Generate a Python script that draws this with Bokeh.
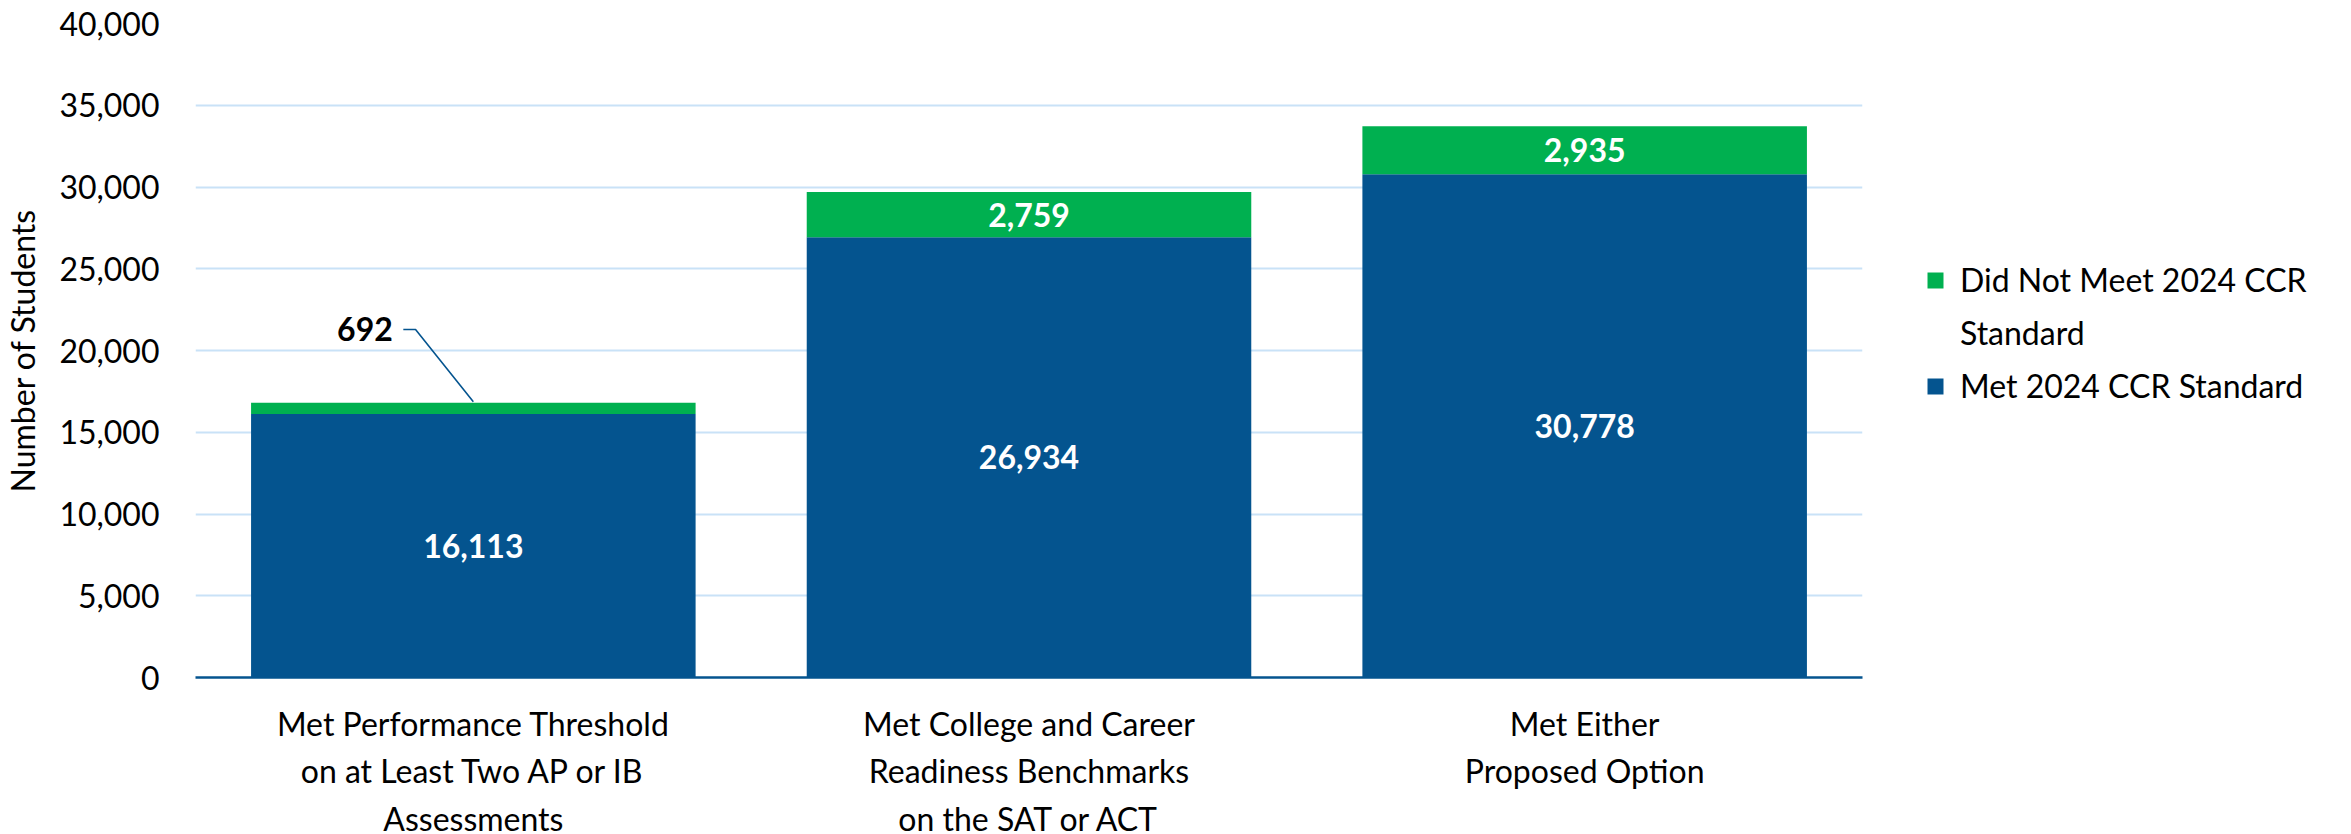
from bokeh.plotting import figure
from bokeh.models import (ColumnDataSource, Range1d, FixedTicker, NumeralTickFormatter,
                          Legend, LegendItem)
from bokeh.core.properties import value
from bokeh.embed import file_html
from bokeh.resources import INLINE

categories = ["Met Performance Threshold\non at Least Two AP or IB\nAssessments",
              "Met College and Career\nReadiness Benchmarks\non the SAT or ACT",
              "Met Either\nProposed Option"]
met = [16113, 26934, 30778]
not_met = [692, 2759, 2935]
legend_lines = ["Did Not Meet 2024 CCR", "Standard", "Met 2024 CCR Standard"]

BLUE = "#04548F"
GREEN = "#00B050"
FONT = "Lato"

xs = [i + 0.5 for i in range(len(categories))]
totals = [m + n for m, n in zip(met, not_met)]
src = ColumnDataSource(dict(
    x=xs, met=met, not_met=not_met,
    met_mid=[m / 2 for m in met],
    nm_mid=[m + n / 2 for m, n in zip(met, not_met)],
    met_lbl=[f"{m:,}" for m in met],
    nm_lbl=[f"{n:,}" for n in not_met],
))

p = figure(frame_width=1667, frame_height=654, x_range=Range1d(0, len(categories)),
           y_range=Range1d(0, 40000), output_backend="svg", toolbar_location=None,
           min_border_left=187, min_border_right=440, min_border_top=23, min_border_bottom=130)
p.outline_line_color = None
p.background_fill_color = "white"

r = p.vbar_stack(["met", "not_met"], x="x", width=0.8, source=src,
                 color=[BLUE, GREEN], line_color=None)
dummy = p.vbar(x=[], top=[], width=0.1, fill_alpha=0, line_alpha=0)

# labels inside segments (both large ones); the small 692 is a callout
big = ColumnDataSource(dict(
    x=xs + xs[1:],
    y=src.data["met_mid"] + src.data["nm_mid"][1:],
    t=src.data["met_lbl"] + src.data["nm_lbl"][1:],
))
p.text(x="x", y="y", text="t", source=big, text_align="center", text_baseline="middle",
       text_color="white", text_font=value(FONT), text_font_style="bold",
       text_font_size="32px")

# callout for the small first segment
cx = xs[0]
ty = totals[0] + 4480
p.line(x=[cx - 0.126, cx - 0.104, cx], y=[ty, ty, totals[0] + 60],
       line_color=BLUE, line_width=1.6)
p.text(x=[cx - 0.145], y=[ty], text=[f"{not_met[0]:,}"], text_align="right",
       text_baseline="middle", text_color="black", text_font=value(FONT),
       text_font_style="bold", text_font_size="32px")

# axes
p.yaxis.ticker = FixedTicker(ticks=list(range(0, 40001, 5000)))
p.yaxis.formatter = NumeralTickFormatter(format="0,0")
p.yaxis.axis_line_color = None
p.yaxis.major_tick_line_color = None
p.yaxis.minor_tick_line_color = None
p.yaxis.major_label_standoff = 30
p.yaxis.major_label_text_font = FONT
p.yaxis.major_label_text_font_size = "32px"
p.yaxis.major_label_text_color = "black"
p.yaxis.axis_label = "Number of Students"
p.yaxis.axis_label_text_font = FONT
p.yaxis.axis_label_text_font_size = "32px"
p.yaxis.axis_label_text_font_style = "normal"
p.yaxis.axis_label_text_color = "black"
p.yaxis.axis_label_standoff = 14

p.xaxis.ticker = FixedTicker(ticks=xs)
p.xaxis.major_label_overrides = {x: c for x, c in zip(xs, categories)}
p.xaxis.axis_line_color = BLUE
p.xaxis.axis_line_width = 2.5
p.xaxis.major_tick_line_color = None
p.xaxis.minor_tick_line_color = None
p.xaxis.major_label_standoff = 20
p.xaxis.major_label_text_font = FONT
p.xaxis.major_label_text_font_size = "32px"
p.xaxis.major_label_text_color = "black"
p.xaxis.major_label_text_line_height = 1.22

p.xgrid.grid_line_color = None
p.ygrid.grid_line_color = "#C9E2F7"
p.ygrid.grid_line_width = 2

legend = Legend(items=[LegendItem(label=legend_lines[0], renderers=[r[1]]),
                       LegendItem(label=legend_lines[1], renderers=[dummy]),
                       LegendItem(label=legend_lines[2], renderers=[r[0]])],
                location=(63, 272), margin=0, padding=0, spacing=14,
                glyph_width=20, glyph_height=20, label_standoff=15,
                label_text_font=FONT, label_text_font_size="32px",
                label_text_color="black",
                border_line_color=None, background_fill_alpha=0)
p.add_layout(legend, "right")

open("out.html", "w").write(file_html(p, INLINE))
